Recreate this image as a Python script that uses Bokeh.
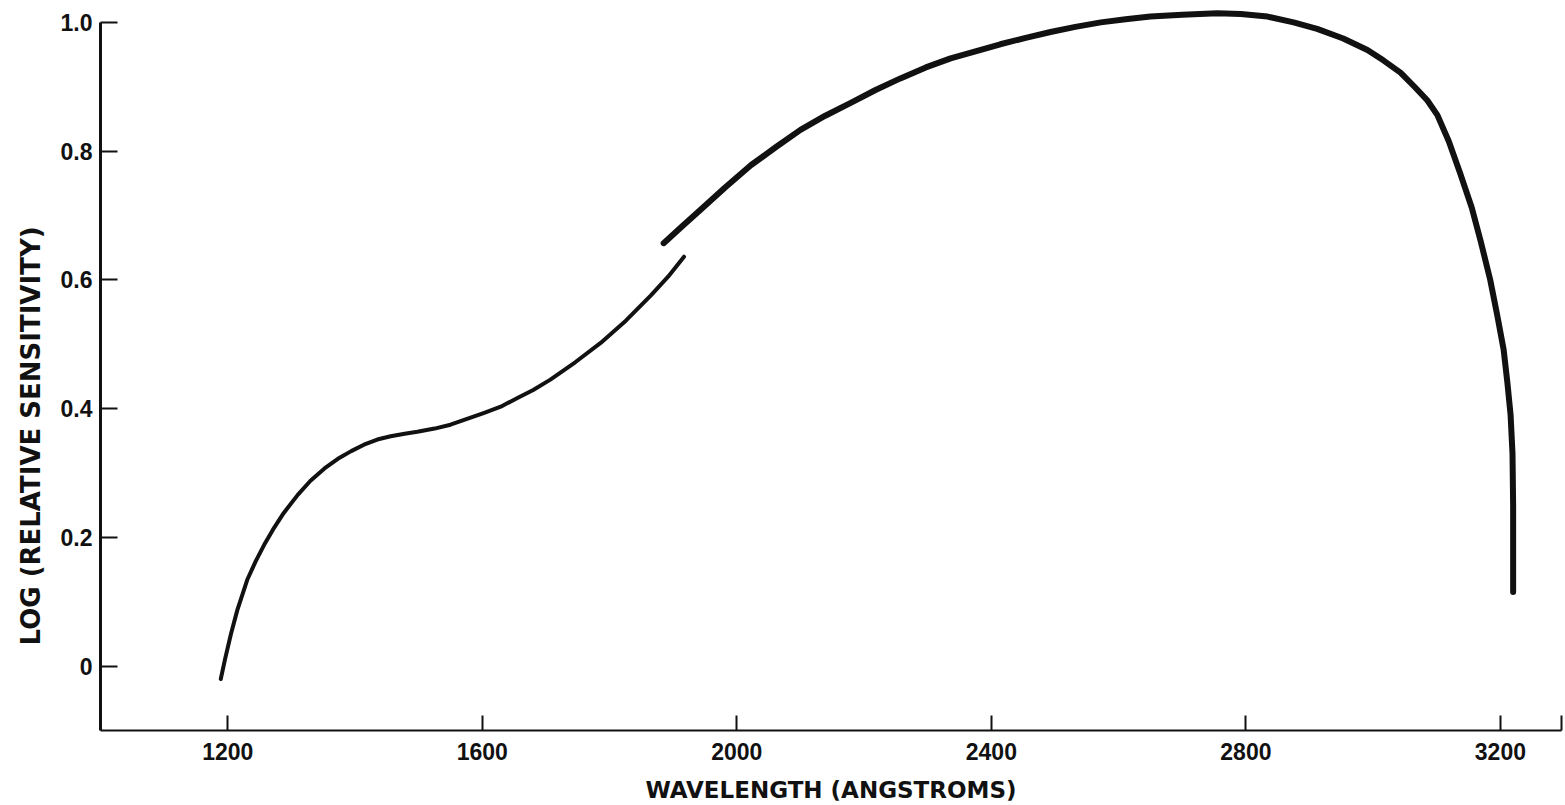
from bokeh.plotting import figure
from bokeh.models import Range1d, FixedTicker, Title
from bokeh.embed import file_html
from bokeh.resources import INLINE

# ---- data ----
seg1_wl = [1189, 1196, 1205, 1215, 1231, 1244, 1257, 1271, 1288, 1310, 1330, 1352, 1373, 1394,
           1414, 1435, 1456, 1478, 1498, 1525, 1550, 1576, 1602, 1629, 1656, 1680, 1707, 1746,
           1786, 1826, 1865, 1892, 1917]
seg1_val = [-0.02, 0.012, 0.05, 0.087, 0.135, 0.163, 0.188, 0.212, 0.238, 0.266, 0.288, 0.307,
            0.322, 0.334, 0.344, 0.352, 0.357, 0.361, 0.364, 0.369, 0.375, 0.384, 0.393, 0.403,
            0.417, 0.429, 0.445, 0.472, 0.502, 0.537, 0.576, 0.605, 0.636]

seg2_wl = [1885, 1915, 1943, 1982, 2022, 2061, 2100, 2139, 2179, 2218, 2257, 2297, 2336, 2375,
           2414, 2454, 2493, 2532, 2572, 2611, 2650, 2700, 2755, 2792, 2834, 2875, 2912, 2953,
           2991, 3016, 3043, 3065, 3085, 3101, 3119, 3137, 3155, 3169, 3184, 3195, 3205, 3211,
           3216, 3219, 3220, 3220]
seg2_val = [0.657, 0.684, 0.709, 0.744, 0.778, 0.806, 0.833, 0.855, 0.875, 0.895, 0.913, 0.93,
            0.944, 0.955, 0.966, 0.976, 0.985, 0.993, 1.0, 1.005, 1.009, 1.012, 1.014, 1.013,
            1.009, 1.0, 0.99, 0.975, 0.957, 0.941, 0.922, 0.9, 0.879, 0.856, 0.815, 0.765,
            0.712, 0.66, 0.6, 0.545, 0.492, 0.44, 0.39, 0.33, 0.25, 0.115]

x_ticks = [1200, 1600, 2000, 2400, 2800, 3200]
x_axis_end = 3296
y_ticks = [0, 0.2, 0.4, 0.6, 0.8, 1.0]
y_tick_labels = ["0", "0.2", "0.4", "0.6", "0.8", "1.0"]
x_title = "WAVELENGTH (ANGSTROMS)"
y_title = "LOG (RELATIVE SENSITIVITY)"

p = figure(width=1565, height=805, output_backend="svg", toolbar_location=None,
           x_range=Range1d(1000, x_axis_end), y_range=Range1d(-0.1, 1.02),
           min_border_left=100, min_border_right=4, min_border_top=9, min_border_bottom=75)
p.outline_line_color = None
p.xgrid.visible = False
p.ygrid.visible = False
p.background_fill_color = "white"
p.border_fill_color = "white"

p.line(seg1_wl, seg1_val, line_color="#111111", line_width=4, line_cap="round", line_join="round")
p.line(seg2_wl, seg2_val, line_color="#111111", line_width=6, line_cap="round", line_join="round")

tick_font = "Liberation Sans"
title_font = "DejaVu Sans"

xa = p.xaxis[0]
xa.ticker = FixedTicker(ticks=x_ticks + [x_axis_end])
xa.major_label_overrides = {x_axis_end: ""}
xa.bounds = (1000, x_axis_end)
xa.axis_line_width = 2
xa.axis_line_color = "#111111"
xa.major_tick_in = 15
xa.major_tick_out = 0
xa.major_tick_line_width = 2
xa.major_tick_line_color = "#111111"
xa.minor_tick_line_color = None
xa.major_label_text_font = tick_font
xa.major_label_text_font_style = "bold"
xa.major_label_text_font_size = "23px"
xa.major_label_text_color = "#111111"
xa.major_label_standoff = 12
xa.axis_label = x_title
xa.axis_label_text_font = title_font
xa.axis_label_text_font_style = "bold"
xa.axis_label_text_font_size = "23px"
xa.axis_label_text_color = "#111111"
xa.axis_label_standoff = 14

ya = p.yaxis[0]
ya.ticker = FixedTicker(ticks=y_ticks)
ya.major_label_overrides = {t: l for t, l in zip(y_ticks, y_tick_labels)}
ya.bounds = (-0.1, 1.0)
ya.axis_line_width = 3
ya.axis_line_color = "#111111"
ya.major_tick_in = 17
ya.major_tick_out = 0
ya.major_tick_line_width = 2
ya.major_tick_line_color = "#111111"
ya.minor_tick_line_color = None
ya.major_label_text_font = tick_font
ya.major_label_text_font_style = "bold"
ya.major_label_text_font_size = "23px"
ya.major_label_text_color = "#111111"
ya.major_label_standoff = 8

yt = Title(text=y_title, align="left", text_font=title_font, text_font_style="bold",
           text_font_size="26px", text_color="#111111", offset=85, standoff=24)
p.add_layout(yt, "left")

open("out.html", "w").write(file_html(p, INLINE))
